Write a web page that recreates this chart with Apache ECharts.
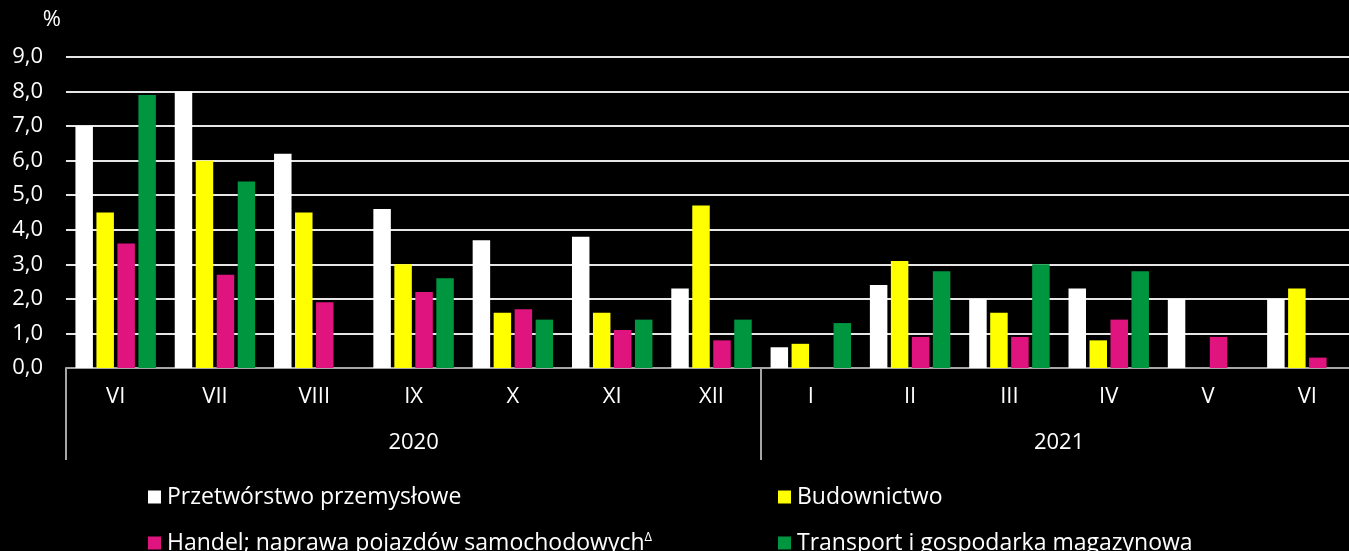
<!DOCTYPE html>
<html>
<head>
<meta charset="utf-8">
<script src="https://cdn.jsdelivr.net/npm/echarts@6/dist/echarts.min.js"></script>
<style>
  html, body { margin: 0; padding: 0; background: #000; }
  #chart { width: 1349px; height: 551px; }
</style>
</head>
<body>
<div id="chart"></div>
<script>
const months = ['VI', 'VII', 'VIII', 'IX', 'X', 'XI', 'XII', 'I', 'II', 'III', 'IV', 'V', 'VI'];
const years = ['2020', '2021'];
const monthsPerYear = [7, 6];
const yTicks = [0, 1, 2, 3, 4, 5, 6, 7, 8, 9];

const przetworstwo = [7.0, 8.0, 6.2, 4.6, 3.7, 3.8, 2.3, 0.6, 2.4, 2.0, 2.3, 2.0, 2.0];
const budownictwo = [4.5, 6.0, 4.5, 3.0, 1.6, 1.6, 4.7, 0.7, 3.1, 1.6, 0.8, null, 2.3];
const handel = [3.6, 2.7, 1.9, 2.2, 1.7, 1.1, 0.8, null, 0.9, 0.9, 1.4, 0.9, 0.3];
const transport = [7.9, 5.4, null, 2.6, 1.4, 1.4, 1.4, 1.3, 2.8, 3.0, 2.8, null, null];

const FONT = '"Open Sans"';
const chart = echarts.init(document.getElementById('chart'));

// year borders and the middle of each year's months on the category scale
const yearMid = {};
const yearStart = [];
let acc = 0;
years.forEach((y, i) => {
  yearStart.push(acc);
  yearMid[acc + monthsPerYear[i] / 2] = y;
  acc += monthsPerYear[i];
});

function bar(name, data, color) {
  return {
    name: name,
    type: 'bar',
    data: data,
    xAxisIndex: 0,
    barGap: '20%',
    barCategoryGap: '19%',
    itemStyle: { color: color }
  };
}

const legendText = {
  color: '#fff', fontSize: 23, fontFamily: FONT, lineHeight: 26, padding: [0, 0, 0, 1],
  rich: { sup: { fontSize: 13, color: '#fff', fontFamily: FONT, lineHeight: 26, padding: [0, 0, 12, 0] } }
};
// one legend per item so each sits where it does in the original layout
function legendItem(name, left, top) {
  return {
    data: [name],
    left: left, top: top,
    padding: 0,
    itemWidth: 13, itemHeight: 13,
    icon: 'rect',
    formatter: n => n.startsWith('Handel') ? n + '{sup|Δ}' : n,
    textStyle: legendText
  };
}

chart.setOption({
  backgroundColor: '#000',
  animation: false,
  textStyle: { fontFamily: FONT },
  grid: { left: 66, width: 1291, top: 57, bottom: 183, containLabel: false, outerBoundsMode: 'none' },
  legend: [
    legendItem('Przetwórstwo przemysłowe', 148, 484),
    legendItem('Handel; naprawa pojazdów samochodowych', 148, 530),
    legendItem('Budownictwo', 778, 484),
    legendItem('Transport i gospodarka magazynowa', 778, 530)
  ],
  xAxis: [
    {
      type: 'category',
      data: months,
      position: 'bottom',
      axisLine: { lineStyle: { color: '#a6a6a6', width: 2 } },
      axisTick: {
        show: true,
        length: 92,
        interval: (i) => yearStart.indexOf(i) !== -1,
        lineStyle: { color: '#a6a6a6', width: 2 }
      },
      axisLabel: { color: '#fff', fontSize: 22, fontFamily: FONT, margin: 18, interval: 0 },
      splitLine: { show: false }
    },
    {
      type: 'value',
      min: 0,
      max: acc,
      interval: 0.5,
      position: 'bottom',
      offset: 45,
      axisLine: { show: false },
      axisTick: { show: false },
      splitLine: { show: false },
      axisLabel: {
        color: '#fff', fontSize: 22, fontFamily: FONT, margin: 19,
        formatter: v => yearMid[v] || ''
      }
    }
  ],
  yAxis: {
    type: 'value',
    min: yTicks[0],
    max: yTicks[yTicks.length - 1],
    interval: 1,
    name: '%',
    nameGap: 26,
    nameTextStyle: { color: '#fff', fontSize: 22, fontFamily: FONT, align: 'right', padding: [0, 5, 0, 0] },
    axisLine: { show: false },
    axisTick: { show: false },
    axisLabel: {
      color: '#fff', fontSize: 22, fontFamily: FONT, margin: 23,
      formatter: v => v.toFixed(1).replace('.', ',')
    },
    splitLine: { lineStyle: { color: '#e6e6e6', width: 2 } }
  },
  series: [
    bar('Przetwórstwo przemysłowe', przetworstwo, '#ffffff'),
    bar('Budownictwo', budownictwo, '#ffff00'),
    bar('Handel; naprawa pojazdów samochodowych', handel, '#e0147f'),
    bar('Transport i gospodarka magazynowa', transport, '#00953f')
  ]
});
</script>
</body>
</html>
